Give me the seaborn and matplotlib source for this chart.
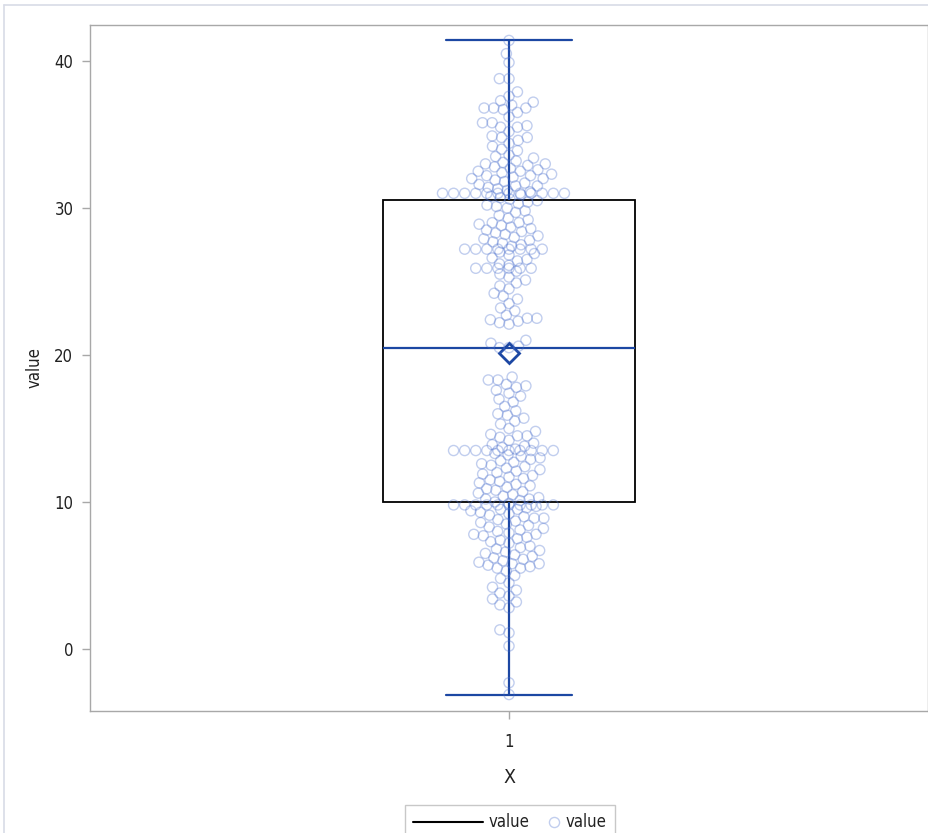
import numpy as np
import pandas as pd
import matplotlib
matplotlib.use("Agg")
import matplotlib.pyplot as plt
import seaborn as sns
from matplotlib.lines import Line2D
from matplotlib.patches import Rectangle

# ---- data ----
upper_values = [
    41.4, 40.5, 39.9, 38.8, 38.8, 37.9, 37.6, 37.3, 37.2, 37.0,
    36.8, 36.8, 36.8, 36.7, 36.5, 36.2, 35.8, 35.8, 35.6, 35.5,
    35.5, 35.2, 34.9, 34.8, 34.8, 34.6, 34.4, 34.2, 34.0, 33.9,
    33.6, 33.5, 33.4, 33.2, 33.1, 33.0, 33.0, 32.9, 32.8, 32.7,
    32.6, 32.5, 32.5, 32.4, 32.3, 32.2, 32.2, 32.1, 32.0, 32.0,
    31.9, 31.8, 31.7, 31.6, 31.5, 31.5, 31.4, 31.3, 31.2, 31.1,
    31.0, 31.0, 31.0, 31.0, 31.0, 31.0, 31.0, 31.0, 31.0, 31.0, 31.0, 31.0,
    30.9, 30.8, 30.7, 30.6, 30.5, 30.4, 30.3, 30.2, 30.1, 30.0,
    29.8, 29.7, 29.5, 29.3, 29.2, 29.0, 29.0, 28.9, 28.8, 28.7,
    28.6, 28.5, 28.4, 28.3, 28.2, 28.1, 28.0, 27.9, 27.8, 27.7,
    27.6, 27.5, 27.4,
    27.2, 27.2, 27.2, 27.2, 27.2, 27.2, 27.2, 27.2,
    27.0, 26.9, 26.8, 26.6, 26.5, 26.4, 26.2, 26.1,
    25.9, 25.9, 25.9, 25.9, 25.9, 25.9,
    25.7, 25.5, 25.3, 25.1, 24.9, 24.7, 24.5, 24.2, 24.0, 23.8,
    23.5, 23.2, 23.0, 22.7, 22.5, 22.5, 22.4, 22.3, 22.2, 22.1,
    21.0, 20.8, 20.6, 20.5, 20.5,
]
lower_values = [
    18.5, 18.3, 18.3, 18.0, 17.9, 17.8, 17.6, 17.4, 17.2, 17.0,
    16.8, 16.5, 16.2, 16.0, 15.9, 15.7, 15.5, 15.3, 15.0, 14.8,
    14.6, 14.5, 14.5, 14.4, 14.2, 14.0, 13.9, 13.8, 13.7, 13.6,
    13.5, 13.5, 13.5, 13.5, 13.5, 13.5, 13.5, 13.5, 13.5, 13.5,
    13.3, 13.2, 13.1, 13.0, 12.9, 12.8, 12.7, 12.6, 12.5, 12.4,
    12.3, 12.2, 12.1, 12.0, 11.9, 11.8, 11.7, 11.6, 11.5, 11.4,
    11.3, 11.2, 11.1, 11.0, 10.9, 10.8, 10.7, 10.6, 10.5, 10.4,
    10.3, 10.2, 10.2, 10.1, 10.0,
    9.8, 9.8, 9.8, 9.8, 9.8, 9.8, 9.8, 9.8, 9.8, 9.8,
    9.9, 9.7, 9.6, 9.5, 9.5, 9.4, 9.3, 9.2, 9.1, 9.0,
    8.9, 8.9, 8.8, 8.7, 8.6, 8.5, 8.4, 8.3, 8.2, 8.1,
    8.0, 7.9, 7.8, 7.8, 7.7, 7.6, 7.5, 7.4, 7.3, 7.2,
    7.0, 6.9, 6.8, 6.7, 6.6, 6.5, 6.4, 6.3, 6.2, 6.1,
    6.0, 5.9, 5.8, 5.8, 5.7, 5.6, 5.5, 5.5, 5.3, 5.0,
    4.8, 4.5, 4.2, 4.0, 3.8, 3.6, 3.4, 3.2, 3.0, 2.8,
    1.3, 1.1, 0.2, -2.3, -3.1,
]
category = "1"
y_ticks = [0, 10, 20, 30, 40]

values = upper_values + lower_values
df = pd.DataFrame({"X": [category] * len(values), "value": values})
counts = df["value"].map(df["value"].value_counts())
df_ties = df[counts >= 5]
df_rest = df[counts < 5]

# ---- style ----
sns.set_theme(style="white")
plt.rcParams["font.family"] = ["DejaVu Sans"]
plt.rcParams["font.stretch"] = "condensed"

dark_blue = "#1c47a3"
pt_edge = (0.27, 0.42, 0.80, 0.33)
spine_col = "#a8a8a8"
txt_col = "#222222"

fig = plt.figure(figsize=(9.29, 8.33), dpi=100)
ax = fig.add_axes([90 / 929, 1 - 711 / 833, 838 / 929, 686 / 833])

sns.boxplot(
    data=df, x="X", y="value", ax=ax, width=0.3, whis=(0, 100),
    showfliers=False, showmeans=True, fill=True,
    boxprops=dict(facecolor="none", edgecolor="black", linewidth=1.3),
    whiskerprops=dict(color=dark_blue, linewidth=1.6),
    capprops=dict(color=dark_blue, linewidth=1.6),
    medianprops=dict(color=dark_blue, linewidth=1.6),
    meanprops=dict(marker="D", markerfacecolor="none",
                   markeredgecolor=dark_blue, markeredgewidth=2.0,
                   markersize=10),
    zorder=1,
)

ax.set_xlim(-0.5, 0.5)
ax.set_ylim(-4.22, 42.45)

n_before = len(ax.collections)
sns.swarmplot(data=df_rest, x="X", y="value", ax=ax, size=6.6,
              color=pt_edge, zorder=3, warn_thresh=1.0)
sns.swarmplot(data=df_ties, x="X", y="value", ax=ax, size=7.6,
              color=pt_edge, zorder=3, warn_thresh=1.0)
ax.set_xlim(-0.5, 0.5)
ax.set_ylim(-4.22, 42.45)
# lay out the swarm with the compact sizes, then freeze it and enlarge markers
fig.canvas.draw()
for coll in ax.collections[n_before:]:
    if "draw" in coll.__dict__:
        del coll.draw
    coll.set_facecolor("none")
    coll.set_edgecolor(pt_edge)
    coll.set_linewidth(1.0)
    coll.set_sizes([7.3 ** 2])

ax.set_yticks(y_ticks)
ax.set_yticklabels([str(t) for t in y_ticks])
ax.tick_params(axis="both", which="both", direction="out", length=6,
               width=1, color=spine_col, labelsize=12, labelcolor=txt_col,
               left=True, bottom=True, pad=6)
ax.tick_params(axis="x", pad=10)
for s in ax.spines.values():
    s.set_color(spine_col)
    s.set_linewidth(1)

ax.set_xlabel("X", fontsize=14, labelpad=12, color=txt_col)
ax.set_ylabel("value", fontsize=12, labelpad=8, color=txt_col)

# legend drawn in figure pixel space
def fx(px):
    return px / 929

def fy(py):
    return 1 - py / 833

fig.add_artist(Rectangle((fx(405), fy(840)), fx(615) - fx(405), fy(805) - fy(840),
                         transform=fig.transFigure, facecolor="white",
                         edgecolor="#c8c8c8", lw=1.0))
fig.add_artist(Line2D([fx(413), fx(483)], [fy(822), fy(822)],
                      transform=fig.transFigure, color="black", lw=1.5))
fig.text(fx(489), fy(822), "value", fontsize=12, color=txt_col, va="center")
fig.add_artist(Line2D([fx(554)], [fy(822)], transform=fig.transFigure,
                      marker="o", linestyle="", markerfacecolor="none",
                      markeredgecolor=pt_edge, markersize=7.3))
fig.text(fx(566), fy(822), "value", fontsize=12, color=txt_col, va="center")

# outer light frame
fig.add_artist(Line2D([fx(4), fx(4)], [0, fy(5)],
                      transform=fig.transFigure, color="#d8dce6", lw=1.2))
fig.add_artist(Line2D([fx(4), 1], [fy(5), fy(5)],
                      transform=fig.transFigure, color="#d8dce6", lw=1.2))

fig.savefig("out.png", dpi=100, facecolor="white")
